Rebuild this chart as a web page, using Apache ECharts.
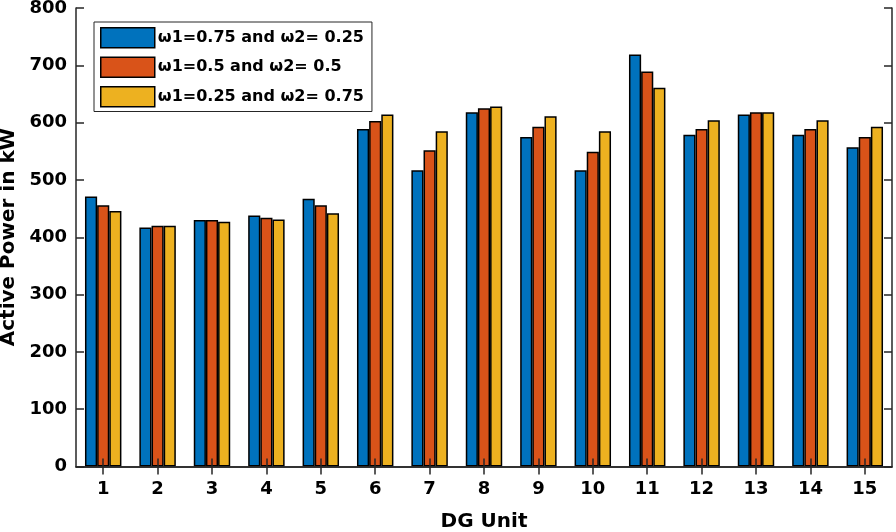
<!DOCTYPE html>
<html>
<head>
<meta charset="utf-8">
<script src="https://cdn.jsdelivr.net/npm/echarts@6/dist/echarts.min.js"></script>
<style>
html,body{margin:0;padding:0;background:#fff;}
#chart{width:896px;height:532px;}
</style>
</head>
<body>
<div id="chart"></div>
<script>
var categories = ['1','2','3','4','5','6','7','8','9','10','11','12','13','14','15'];
var seriesNames = ['\u03c91=0.75 and \u03c92= 0.25', '\u03c91=0.5 and \u03c92= 0.5', '\u03c91=0.25 and \u03c92= 0.75'];
var w075 = [471, 417, 430, 438, 467, 589, 517, 618, 575, 517, 719, 579, 614, 579, 557];
var w050 = [456, 420, 430, 434, 456, 603, 552, 625, 593, 549, 689, 589, 618, 589, 575];
var w025 = [446, 420, 427, 431, 442, 614, 585, 628, 611, 585, 661, 604, 618, 604, 593];
var yTicks = [0, 100, 200, 300, 400, 500, 600, 700, 800];

var colors = ['#0072BD', '#D95319', '#EDB120'];
var FONT = 'DejaVu Sans';
var axisColor = '#262626';

var chart = echarts.init(document.getElementById('chart'), null, {renderer: 'canvas'});

function barSeries(name, data, color) {
  return {
    name: name,
    type: 'bar',
    data: data,
    barGap: '0%',
    barCategoryGap: '33%',
    itemStyle: {color: color, borderColor: '#000', borderWidth: 1.5},
    emphasis: {disabled: true},
    z: 2
  };
}

var option = {
  animation: false,
  backgroundColor: '#fff',
  grid: {left: 76, right: 4, top: 8, bottom: 65.5, containLabel: false, outerBoundsMode: 'none'},
  legend: {
    orient: 'vertical',
    left: 94,
    top: 22,
    data: seriesNames,
    icon: 'rect',
    itemWidth: 54,
    itemHeight: 20,
    itemGap: 8,
    padding: [5, 8, 4, 6],
    backgroundColor: '#fff',
    borderColor: axisColor,
    borderWidth: 1,
    textStyle: {fontFamily: FONT, fontWeight: 'bold', fontSize: 16, color: '#000', padding: [0, 0, 0, -2]},
    itemStyle: {borderColor: '#000', borderWidth: 1.5},
    z: 10
  },
  xAxis: [
    {
      type: 'category',
      data: categories,
      position: 'bottom',
      name: 'DG Unit',
      nameLocation: 'middle',
      nameGap: 45,
      nameTextStyle: {fontFamily: FONT, fontWeight: 'bold', fontSize: 20, color: '#000'},
      axisLine: {show: true, lineStyle: {color: axisColor, width: 1.5}},
      axisTick: {show: true, inside: true, alignWithLabel: true, length: 8, lineStyle: {color: axisColor, width: 1.5}},
      axisLabel: {fontFamily: FONT, fontWeight: 'bold', fontSize: 18, color: '#000', margin: 14},
      splitLine: {show: false},
      z: 5
    },
    {
      type: 'category',
      data: categories,
      position: 'top',
      axisLine: {show: true, lineStyle: {color: axisColor, width: 1.5}},
      axisTick: {show: true, inside: true, alignWithLabel: true, length: 8, lineStyle: {color: axisColor, width: 1.5}},
      axisLabel: {show: false},
      splitLine: {show: false},
      z: 5
    }
  ],
  yAxis: [
    {
      type: 'value',
      min: yTicks[0],
      max: yTicks[yTicks.length - 1],
      interval: 100,
      position: 'left',
      name: 'Active Power in kW',
      nameLocation: 'middle',
      nameGap: 54,
      nameRotate: 90,
      nameTextStyle: {fontFamily: FONT, fontWeight: 'bold', fontSize: 20, color: '#000'},
      axisLine: {show: true, lineStyle: {color: axisColor, width: 1.5}},
      axisTick: {show: true, inside: true, length: 8, lineStyle: {color: axisColor, width: 1.5}},
      axisLabel: {fontFamily: FONT, fontWeight: 'bold', fontSize: 18, color: '#000', margin: 9},
      splitLine: {show: false},
      z: 5
    },
    {
      type: 'value',
      min: yTicks[0],
      max: yTicks[yTicks.length - 1],
      interval: 100,
      position: 'right',
      axisLine: {show: true, lineStyle: {color: axisColor, width: 1.5}},
      axisTick: {show: true, inside: true, length: 8, lineStyle: {color: axisColor, width: 1.5}},
      axisLabel: {show: false},
      splitLine: {show: false},
      z: 5
    }
  ],
  series: [
    barSeries(seriesNames[0], w075, colors[0]),
    barSeries(seriesNames[1], w050, colors[1]),
    barSeries(seriesNames[2], w025, colors[2])
  ]
};

chart.setOption(option);
</script>
</body>
</html>
